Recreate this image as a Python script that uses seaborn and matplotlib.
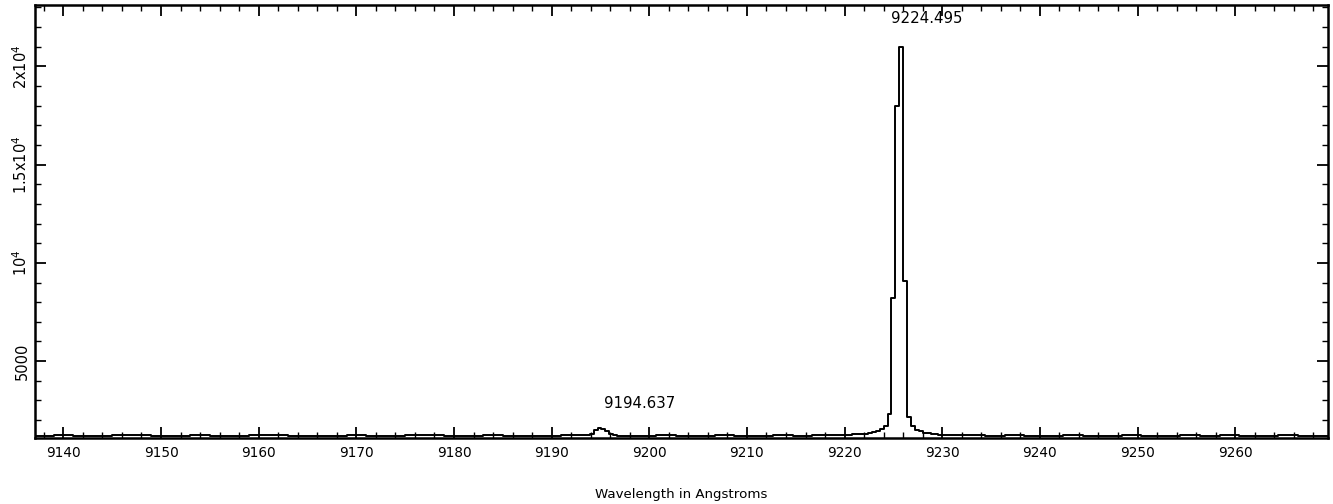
import matplotlib
matplotlib.use("Agg")
import matplotlib.pyplot as plt
from matplotlib.ticker import MultipleLocator, FixedLocator
import seaborn as sns
import pandas as pd

# ---- data ----
# left edges of the spectral bins (Angstrom) and the flux in each bin
baseline_a_edges = [9137.0, 9139.0, 9141.0, 9143.0, 9145.0, 9147.0, 9149.0, 9151.0,
                    9153.0, 9155.0, 9157.0, 9159.0, 9161.0, 9163.0, 9165.0, 9167.0,
                    9169.0, 9171.0, 9173.0, 9175.0, 9177.0, 9179.0, 9181.0, 9183.0,
                    9185.0, 9187.0, 9189.0, 9191.0]
baseline_a_flux = [1210, 1225, 1205, 1200, 1220, 1230, 1210, 1205, 1225, 1215,
                   1200, 1220, 1230, 1210, 1200, 1215, 1225, 1210, 1205, 1220,
                   1235, 1215, 1205, 1225, 1210, 1200, 1215, 1230]

weak_line_edges = [9193.5, 9193.9, 9194.3, 9194.7, 9195.1, 9195.5, 9195.9, 9196.3]
weak_line_flux = [1240, 1310, 1480, 1600, 1560, 1420, 1300, 1240]

baseline_b_edges = [9196.7, 9198.7, 9200.7, 9202.7, 9204.7, 9206.7, 9208.7, 9210.7,
                    9212.7, 9214.7, 9216.7, 9218.7]
baseline_b_flux = [1215, 1205, 1225, 1210, 1200, 1220, 1215, 1205, 1225, 1210,
                   1220, 1230]

strong_line_edges = [9220.0, 9220.4, 9220.8, 9221.2, 9221.6, 9222.0, 9222.4, 9222.8,
                     9223.2, 9223.6, 9224.0, 9224.4, 9224.8, 9225.2, 9225.6, 9226.0,
                     9226.4, 9226.8, 9227.2, 9227.6, 9228.0, 9228.4, 9228.8, 9229.2,
                     9229.6, 9230.0]
strong_line_flux = [1240, 1260, 1300, 1280, 1290, 1310, 1340, 1400,
                    1470, 1560, 1700, 2300, 8200, 18000, 21000, 9100,
                    2150, 1700, 1500, 1420, 1360, 1320, 1290, 1270,
                    1260, 1250]

baseline_c_edges = [9230.4, 9232.4, 9234.4, 9236.4, 9238.4, 9240.4, 9242.4, 9244.4,
                    9246.4, 9248.4, 9250.4, 9252.4, 9254.4, 9256.4, 9258.4, 9260.4,
                    9262.4, 9264.4, 9266.4, 9268.4, 9269.5]
baseline_c_flux = [1240, 1225, 1210, 1220, 1205, 1215, 1225, 1210, 1200, 1220,
                   1215, 1205, 1225, 1210, 1220, 1200, 1215, 1225, 1210, 1205, 1205]

line_labels = ["9194.637", "9224.495"]
line_label_x = [9195.35, 9224.75]
line_label_y = [2820, 22460]

x_ticks = [9140, 9150, 9160, 9170, 9180, 9190, 9200, 9210, 9220, 9230, 9240, 9250, 9260]
y_ticks = [5000, 10000, 15000, 20000]
y_tick_labels = ["5000", "10$^4$", "1.5x10$^4$", "2x10$^4$"]

wave = baseline_a_edges + weak_line_edges + baseline_b_edges + strong_line_edges + baseline_c_edges
flux = baseline_a_flux + weak_line_flux + baseline_b_flux + strong_line_flux + baseline_c_flux
df = pd.DataFrame({"wavelength": wave, "flux": flux})

# ---- plot ----
sns.set_theme(style="ticks")
plt.rcParams["font.family"] = ["DejaVu Sans"]

fig = plt.figure(figsize=(13.33, 5.04), dpi=100)
ax = fig.add_axes([0.0263, 0.131, 0.9699, 0.859])

sns.lineplot(data=df, x="wavelength", y="flux", ax=ax, estimator=None,
             drawstyle="steps-post", color="black", linewidth=1.4)

ax.set_xlim(9137.1, 9269.5)
ax.set_ylim(1090, 23120)

ax.xaxis.set_major_locator(FixedLocator(x_ticks))
ax.xaxis.set_minor_locator(MultipleLocator(2))
ax.yaxis.set_major_locator(FixedLocator(y_ticks))
ax.yaxis.set_minor_locator(MultipleLocator(1000))
ax.set_xticklabels([str(t) for t in x_ticks])
ax.set_yticklabels(y_tick_labels, rotation=90, va="center")

ax.tick_params(which="both", direction="in", top=True, right=True, color="black",
               labelcolor="black")
ax.tick_params(axis="x", labelsize=9.8)
ax.tick_params(axis="y", labelsize=10.5)
ax.tick_params(which="major", length=8, width=1.3, pad=6)
ax.tick_params(which="minor", length=4, width=1.0)
ax.tick_params(axis="y", which="major", pad=4)

for s in ax.spines.values():
    s.set_color("black")
    s.set_linewidth(1.8)

ax.set_xlabel("Wavelength in Angstroms", fontsize=9.6, color="black", labelpad=20)
ax.set_ylabel("")

for lab, lx, ly in zip(line_labels, line_label_x, line_label_y):
    ax.text(lx, ly, lab, ha="left", va="center", fontsize=10.8, color="black")

fig.savefig("out.png", dpi=100, facecolor="white")
